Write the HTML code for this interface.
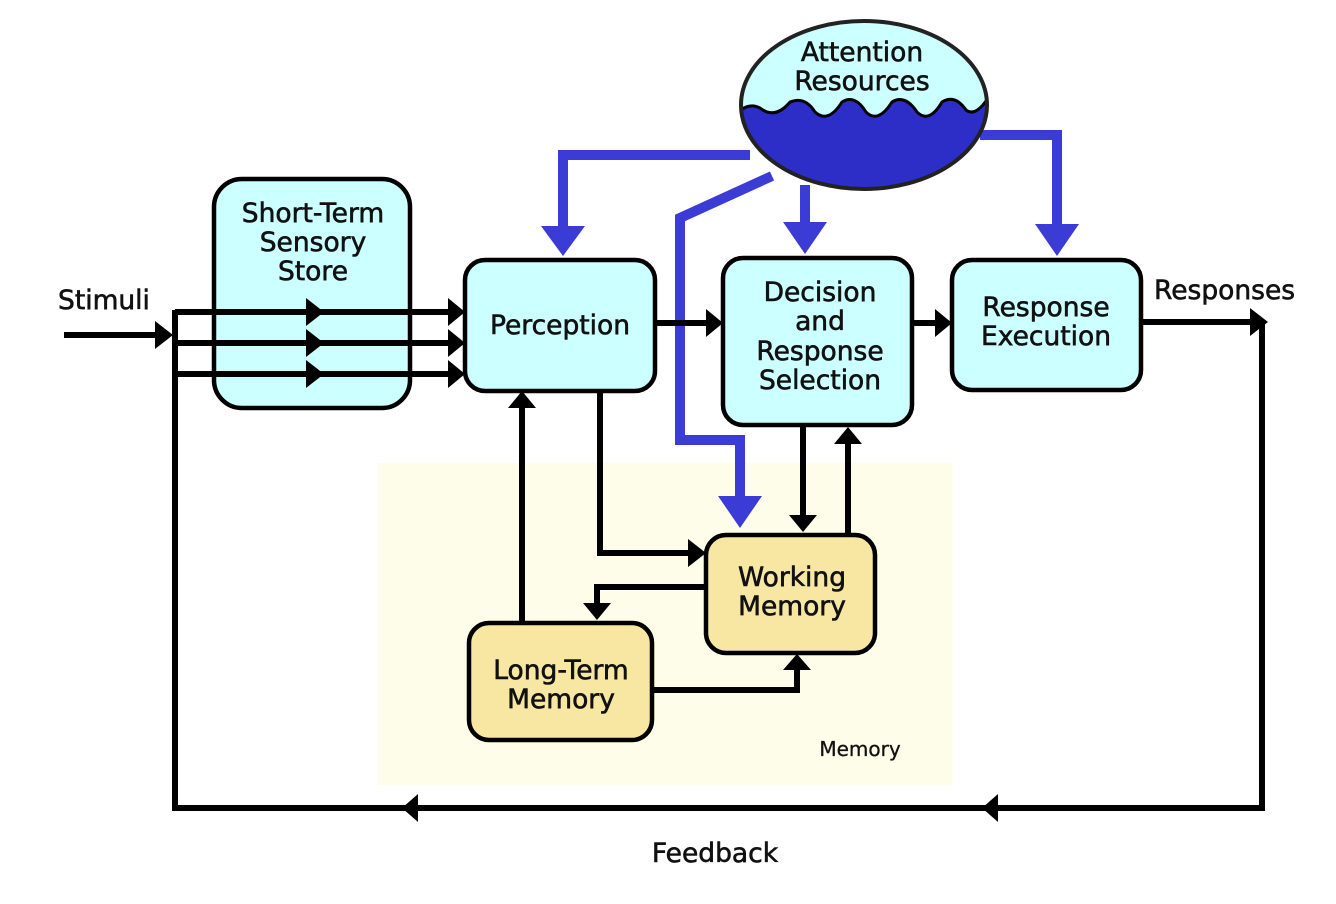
<!DOCTYPE html>
<html><head><meta charset="utf-8"><style>
html,body{margin:0;padding:0;background:#fff;width:1336px;height:904px;overflow:hidden}
text{font-family:"DejaVu Sans","Liberation Sans",sans-serif;font-size:26.5px;fill:#111;stroke:#111;stroke-width:0.6px}
</style></head><body>
<svg width="1336" height="904" viewBox="0 0 1336 904" xmlns="http://www.w3.org/2000/svg">
<defs><clipPath id="ec"><ellipse cx="864" cy="105" rx="123" ry="84"/></clipPath></defs>
<rect x="378" y="463" width="575" height="322" fill="#fdfde9"/>
<text x="860" y="756" text-anchor="middle" style="font-size:20px;stroke-width:0.3px">Memory</text>

<g fill="none" stroke="#3b3bd6" stroke-width="10">
<polyline points="750,155 563,155 563,228"/>
<polyline points="772,176 680,218 680,440 740,440 740,500"/>
<polyline points="805,185 805,225"/>
<polyline points="980,135 1057,135 1057,226"/>
</g>
<g fill="#3b3bd6">
<polygon points="541,226 585,226 563,256"/>
<polygon points="718,496 762,496 740,528"/>
<polygon points="783,222 827,222 805,254"/>
<polygon points="1035,224 1079,224 1057,256"/>
</g>

<ellipse cx="864" cy="105" rx="123" ry="84" fill="#ccffff"/>
<path clip-path="url(#ec)" d="M730,122 Q745,100 760,108 Q775,120 790,102 Q805,96 815,112 Q828,124 842,102 Q855,94 866,112 Q878,124 892,102 Q905,94 917,112 Q929,124 942,102 Q955,94 966,110 Q976,118 990,95 L1000,200 L730,200 Z" fill="#2d2dc8" stroke="#000" stroke-width="3"/>
<ellipse cx="864" cy="105" rx="123" ry="84" fill="none" stroke="#222" stroke-width="4"/>
<text x="862" y="61" text-anchor="middle">Attention</text>
<text x="862" y="90" text-anchor="middle">Resources</text>

<g stroke="#000" stroke-width="4.5">
<rect x="214" y="179" width="196" height="229" rx="28" fill="#ccffff"/>
<rect x="465" y="260" width="190" height="131" rx="20" fill="#ccffff"/>
<rect x="723" y="258" width="189" height="167" rx="20" fill="#ccffff"/>
<rect x="952" y="260" width="189" height="130" rx="20" fill="#ccffff"/>
<rect x="706" y="535" width="169" height="118" rx="20" fill="#f8e7a3"/>
<rect x="469" y="623" width="183" height="117" rx="20" fill="#f8e7a3"/>
</g>
<g text-anchor="middle">
<text x="313" y="222">Short-Term</text>
<text x="313" y="251">Sensory</text>
<text x="313" y="280">Store</text>
<text x="560" y="334">Perception</text>
<text x="820" y="301">Decision</text>
<text x="820" y="330">and</text>
<text x="820" y="360">Response</text>
<text x="820" y="389">Selection</text>
<text x="1046" y="316">Response</text>
<text x="1046" y="345">Execution</text>
<text x="792" y="586">Working</text>
<text x="792" y="615">Memory</text>
<text x="561" y="679">Long-Term</text>
<text x="561" y="708">Memory</text>
</g>
<text x="58" y="309">Stimuli</text>
<text x="1154" y="299">Responses</text>
<text x="715" y="862" text-anchor="middle">Feedback</text>

<g fill="none" stroke="#000" stroke-width="6">
<line x1="64" y1="335" x2="160" y2="335"/>
<polyline points="175,310 175,808 1262,808 1262,322"/>
<line x1="175" y1="312" x2="452" y2="312"/>
<line x1="175" y1="343" x2="452" y2="343"/>
<line x1="175" y1="374" x2="452" y2="374"/>
<line x1="655" y1="323" x2="710" y2="323"/>
<line x1="912" y1="323" x2="938" y2="323"/>
<line x1="1141" y1="322" x2="1255" y2="322"/>
<polyline points="600,392 600,553 690,553"/>
<line x1="522" y1="623" x2="522" y2="406"/>
<polyline points="706,587 597,587 597,608"/>
<polyline points="652,690 797,690 797,668"/>
<line x1="803" y1="425" x2="803" y2="518"/>
<line x1="848" y1="535" x2="848" y2="442"/>
</g>
<g fill="#000">
<polygon points="155,321 173,335 155,349"/>
<polygon points="306,298 324,312 306,326"/>
<polygon points="306,329 324,343 306,357"/>
<polygon points="306,360 324,374 306,388"/>
<polygon points="448,298 465,312 448,326"/>
<polygon points="448,329 465,343 448,357"/>
<polygon points="448,360 465,374 448,388"/>
<polygon points="706,309 723,323 706,337"/>
<polygon points="935,309 952,323 935,337"/>
<polygon points="1250,308 1268,322 1250,336"/>
<polygon points="688,539 706,553 688,567"/>
<polygon points="508,408 522,391 536,408"/>
<polygon points="583,603 597,620 611,603"/>
<polygon points="783,670 797,654 811,670"/>
<polygon points="789,515 803,532 817,515"/>
<polygon points="834,444 848,427 862,444"/>
<polygon points="418,794 402,808 418,822"/>
<polygon points="998,794 982,808 998,822"/>
</g>
</svg>
</body></html>
